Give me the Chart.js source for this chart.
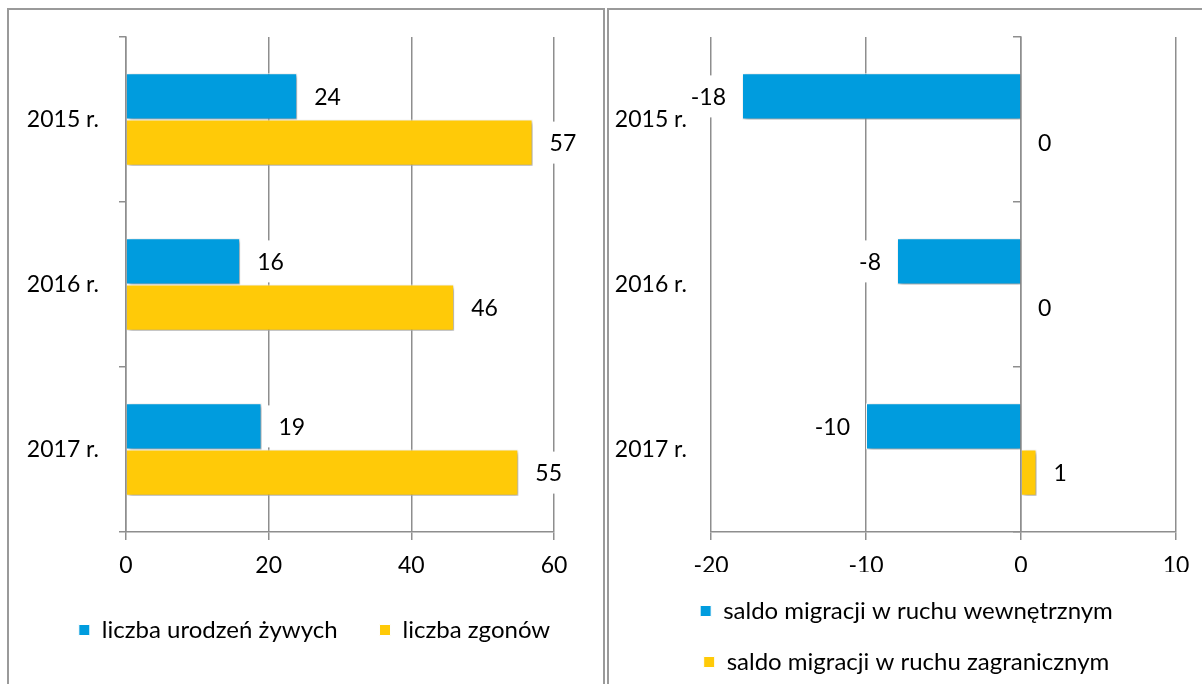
<!DOCTYPE html>
<html><head><meta charset="utf-8">
<script src="https://cdn.jsdelivr.net/npm/chart.js@4.4.1/dist/chart.umd.min.js"></script>
<style>
html,body{margin:0;padding:0;background:#fff;width:1202px;height:684px;overflow:hidden;}
.panel{position:absolute;top:8px;height:700px;box-sizing:border-box;border:2px solid #9a9a9a;border-bottom:none;overflow:hidden;}
#p1{left:7px;width:598px;}
#p2{left:607px;width:640px;border-right:none;}
canvas{position:absolute;left:0;top:0;}
</style></head>
<body>
<div class="panel" id="p1"><canvas id="c1" width="611" height="674"></canvas></div>
<div class="panel" id="p2"><canvas id="c2" width="595" height="674"></canvas></div>
<script>
// ---- data ----
const years = ['2015 r.', '2016 r.', '2017 r.'];
const births = [24, 16, 19];
const deaths = [57, 46, 55];
const migInternal = [-18, -8, -10];
const migForeign = [0, 0, 1];
const leftSeriesNames = ['liczba urodzeń żywych', 'liczba zgonów'];
const rightSeriesNames = ['saldo migracji w ruchu wewnętrznym', 'saldo migracji w ruchu zagranicznym'];
const leftRange = [0, 60, 20];
const rightRange = [-20, 10, 10];

const BLUE = '#009CDE', YELLOW = '#FFCA08', GRID = '#8e8e8e';
const FONT = 'Lato';
const NUM_SIZE = 23, LEG_SIZE = 24;
Chart.defaults.font.family = FONT;
Chart.defaults.font.size = NUM_SIZE;
Chart.defaults.color = '#000';

const shadowPlugin = {
  id: 'shadow',
  beforeDatasetsDraw(chart) {
    const c = chart.ctx; c.save();
    c.shadowColor = 'rgba(0,0,0,0.38)'; c.shadowBlur = 4; c.shadowOffsetX = 2; c.shadowOffsetY = 2;
  },
  afterDatasetsDraw(chart) { chart.ctx.restore(); }
};
const labelPlugin = {
  id: 'valueLabels',
  afterDraw(chart) {
    const ctx = chart.ctx;
    ctx.save();
    ctx.font = NUM_SIZE + 'px ' + FONT;
    ctx.textBaseline = 'middle';
    ctx.textAlign = 'left';
    chart.data.datasets.forEach((ds, di) => {
      const meta = chart.getDatasetMeta(di);
      meta.data.forEach((el, i) => {
        const v = ds.data[i];
        const txt = String(v);
        const w = ctx.measureText(txt).width;
        const neg = v < 0;
        const left = neg ? el.x - 16 - w : el.x + 17;
        ctx.fillStyle = '#fff';
        if (neg) ctx.fillRect(left - 4, el.y - 21, w + 16, 42);
        else ctx.fillRect(left - 12, el.y - 21, w + 16, 42);
        ctx.fillStyle = '#000';
        ctx.fillText(txt, left, el.y + 1);
      });
    });
    ctx.restore();
  }
};

function ds(label, data, color) {
  return { label, data, backgroundColor: color, borderColor: '#ffffff', borderWidth: 1,
           categoryPercentage: 0.56, barPercentage: 1.0 };
}

new Chart(document.getElementById('c1'), {
  type: 'bar',
  data: { labels: years, datasets: [ds(leftSeriesNames[0], births, BLUE), ds(leftSeriesNames[1], deaths, YELLOW)] },
  plugins: [shadowPlugin, labelPlugin],
  options: {
    indexAxis: 'y', responsive: false, animation: false,
    layout: { padding: { top: 27, left: 0, right: 0, bottom: 32 } },
    plugins: {
      tooltip: { enabled: false },
      legend: { position: 'bottom', align: 'center',
        labels: { boxWidth: 11, boxHeight: 11, padding: 42, font: { size: LEG_SIZE }, color: '#000' } }
    },
    scales: {
      x: { type: 'linear', position: 'bottom', min: leftRange[0], max: leftRange[1],
        ticks: { stepSize: leftRange[2], padding: 12, color: '#000' },
        grid: { color: GRID, lineWidth: 1.5, tickLength: 8, drawTicks: true },
        border: { display: true, color: GRID, width: 1.5 },
        afterFit: s => { s.height = 44; } },
      y: { type: 'category', position: 'left', offset: true,
        ticks: { padding: 20, color: '#000', font: { size: NUM_SIZE, lineHeight: 0.2 } },
        grid: { display: true, drawOnChartArea: false, drawTicks: true, tickLength: 7, offset: true, color: GRID, lineWidth: 1.5 },
        border: { display: true, color: GRID, width: 1.5 },
        afterFit: s => { s.width = 117; } },
      yR: { type: 'category', position: 'right', display: true,
        ticks: { display: false }, grid: { display: false }, border: { display: false },
        afterFit: s => { s.width = 66; } }
    }
  }
});

new Chart(document.getElementById('c2'), {
  type: 'bar',
  data: { labels: years, datasets: [ds(rightSeriesNames[0], migInternal, BLUE), ds(rightSeriesNames[1], migForeign, YELLOW)] },
  plugins: [shadowPlugin, labelPlugin],
  options: {
    indexAxis: 'y', responsive: false, animation: false,
    layout: { padding: { top: 27, left: 0, right: 0, bottom: 0 } },
    plugins: {
      tooltip: { enabled: false },
      legend: { position: 'bottom', align: 'center',
        labels: { boxWidth: 11, boxHeight: 11, padding: 27, font: { size: LEG_SIZE }, color: '#000' } }
    },
    scales: {
      x: { type: 'linear', position: 'bottom', min: rightRange[0], max: rightRange[1],
        ticks: { stepSize: rightRange[2], padding: 12, color: '#000' },
        grid: { color: GRID, lineWidth: 1.5, tickLength: 8, drawTicks: true },
        border: { display: true, color: GRID, width: 1.5 },
        afterFit: s => { s.height = 40; } },
      y: { type: 'category', position: 'left', offset: true,
        ticks: { padding: 16, color: '#000', font: { size: NUM_SIZE, lineHeight: 0.2 } },
        grid: { display: false }, border: { display: false },
        afterFit: s => { s.width = 102; } },
      y2: { type: 'category', position: { x: 0 }, offset: true,
        ticks: { display: false },
        grid: { display: true, drawOnChartArea: false, drawTicks: true, tickLength: 7, offset: true, color: GRID, lineWidth: 1.5 },
        border: { display: true, color: GRID, width: 1.5 } },
      yR: { type: 'category', position: 'right', display: true,
        ticks: { display: false }, grid: { display: false }, border: { display: false },
        afterFit: s => { s.width = 28; } }
    }
  }
});
</script>
</body></html>
